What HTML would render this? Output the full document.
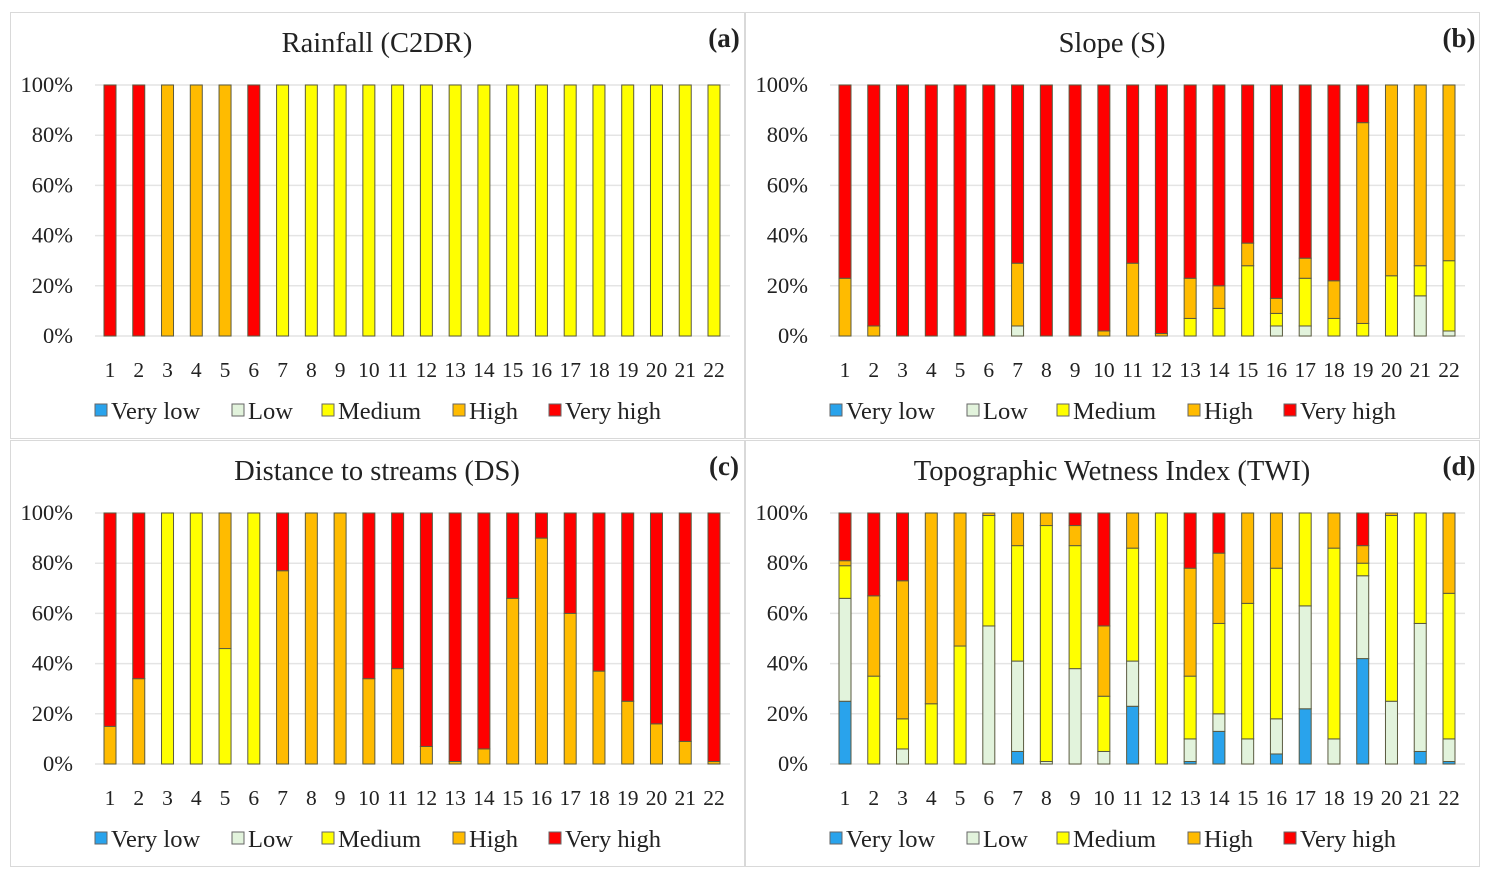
<!DOCTYPE html>
<html><head><meta charset="utf-8"><style>
body{margin:0;background:#fff;}
svg text{font-family:"Liberation Serif",serif;fill:#222;}
</style></head><body>
<svg id="s" width="1489" height="880" xmlns="http://www.w3.org/2000/svg"></svg>
<script>
const categories=[1,2,3,4,5,6,7,8,9,10,11,12,13,14,15,16,17,18,19,20,21,22];
const seriesNames=["Very low","Low","Medium","High","Very high"];
const colors=["#29a3ec","#e2f3dc","#ffff00","#ffbb00","#ff0000"];
const yTicks=[0,20,40,60,80,100];
// Panel a values (% per class)
const aVL=[0,0,0,0,0,0,0,0,0,0,0,0,0,0,0,0,0,0,0,0,0,0];
const aL=[0,0,0,0,0,0,0,0,0,0,0,0,0,0,0,0,0,0,0,0,0,0];
const aM=[0,0,0,0,0,0,100,100,100,100,100,100,100,100,100,100,100,100,100,100,100,100];
const aH=[0,0,100,100,100,0,0,0,0,0,0,0,0,0,0,0,0,0,0,0,0,0];
const aVH=[100,100,0,0,0,100,0,0,0,0,0,0,0,0,0,0,0,0,0,0,0,0];
// Panel b
const bVL=[0,0,0,0,0,0,0,0,0,0,0,0,0,0,0,0,0,0,0,0,0,0];
const bL=[0,0,0,0,0,0,4,0,0,0,0,0,0,0,0,4,4,0,0,0,16,2];
const bM=[0,0,0,0,0,0,0,0,0,0,0,0,7,11,28,5,19,7,5,24,12,28];
const bH=[23,4,0,0,0,0,25,0,0,2,29,1,16,9,9,6,8,15,80,76,72,70];
const bVH=[77,96,100,100,100,100,71,100,100,98,71,99,77,80,63,85,69,78,15,0,0,0];
// Panel c
const cVL=[0,0,0,0,0,0,0,0,0,0,0,0,0,0,0,0,0,0,0,0,0,0];
const cL=[0,0,0,0,0,0,0,0,0,0,0,0,0,0,0,0,0,0,0,0,0,0];
const cM=[0,0,100,100,46,100,0,0,0,0,0,0,0,0,0,0,0,0,0,0,0,0];
const cH=[15,34,0,0,54,0,77,100,100,34,38,7,1,6,66,90,60,37,25,16,9,1];
const cVH=[85,66,0,0,0,0,23,0,0,66,62,93,99,94,34,10,40,63,75,84,91,99];
// Panel d
const dVL=[25,0,0,0,0,0,5,0,0,0,23,0,1,13,0,4,22,0,42,0,5,1];
const dL=[41,0,6,0,0,55,36,1,38,5,18,0,9,7,10,14,41,10,33,25,51,9];
const dM=[13,35,12,24,47,44,46,94,49,22,45,100,25,36,54,60,37,76,5,74,44,58];
const dH=[2,32,55,76,53,1,13,5,8,28,14,0,43,28,36,22,0,14,7,1,0,32];
const dVH=[19,33,27,0,0,0,0,0,5,45,0,0,22,16,0,0,0,0,13,0,0,0];

const NS="http://www.w3.org/2000/svg";
const svg=document.getElementById('s');
function mk(t,a,p){const e=document.createElementNS(NS,t);for(const k in a)e.setAttribute(k,a[k]);(p||svg).appendChild(e);return e;}

const panels=[
 {id:'a',title:'Rainfall (C2DR)',x0:10,y0:12,data:[aVL,aL,aM,aH,aVH]},
 {id:'b',title:'Slope (S)',x0:745,y0:12,data:[bVL,bL,bM,bH,bVH]},
 {id:'c',title:'Distance to streams (DS)',x0:10,y0:440,data:[cVL,cL,cM,cH,cVH]},
 {id:'d',title:'Topographic Wetness Index (TWI)',x0:745,y0:440,data:[dVL,dL,dM,dH,dVH]}
];
panels.forEach(p=>{
 const g=mk('g',{});
 
 
 const box=mk('rect',{x:p.x0+0.5,y:p.y0+0.5,width:734,height:426,fill:'#fff',stroke:'#d9d9d9'},g);
 
 
 const dx=p.x0-10, dy=p.y0-12;
 const yScale=v=>dy+336-v*2.51;
 const xScale=i=>dx+110+i*(604/21);
 const t=mk('text',{x:dx+377,y:dy+52,'font-size':28.5,'text-anchor':'middle'},g);
 t.textContent=p.title;
 
 
 const lb=mk('text',{x:dx+724,y:dy+47,'font-size':27,'font-weight':'bold','text-anchor':'middle'},g);
 lb.textContent='('+p.id+')';
 
 
 yTicks.forEach(v=>{
  const gl=mk('line',{x1:dx+95,x2:dx+730,y1:yScale(v),y2:yScale(v),stroke:'#e4e4e4','stroke-width':1.5},g);
  
  
  const tl=mk('text',{x:dx+73,y:yScale(v)+7,'font-size':22.5,'text-anchor':'end'},g);
  tl.textContent=v+'%';
  
  
 });
 categories.forEach((c,i)=>{
  const xl=mk('text',{x:xScale(i),y:dy+377,'font-size':21.5,'text-anchor':'middle'},g);
  xl.textContent=c;
  
  
  let cum=0;
  p.data.forEach((ser,k)=>{
   const v=ser[i]; if(v<=0){return;}
   const r=mk('rect',{x:xScale(i)-6,y:yScale(cum+v),width:12,height:v*2.51,fill:colors[k],stroke:'#5a5a40','stroke-width':1},g);
   
   
   cum+=v;
  });
 });
 const lx=[95,232,322,453,549];
 seriesNames.forEach((n,k)=>{
  const sq=mk('rect',{x:dx+lx[k],y:dy+404,width:12,height:12,fill:colors[k],stroke:'#666'},g);
  
  
  const lt=mk('text',{x:dx+lx[k]+16,y:dy+419,'font-size':24.5},g);
  lt.textContent=n;
  
  
 });
});
</script>
</body></html>
